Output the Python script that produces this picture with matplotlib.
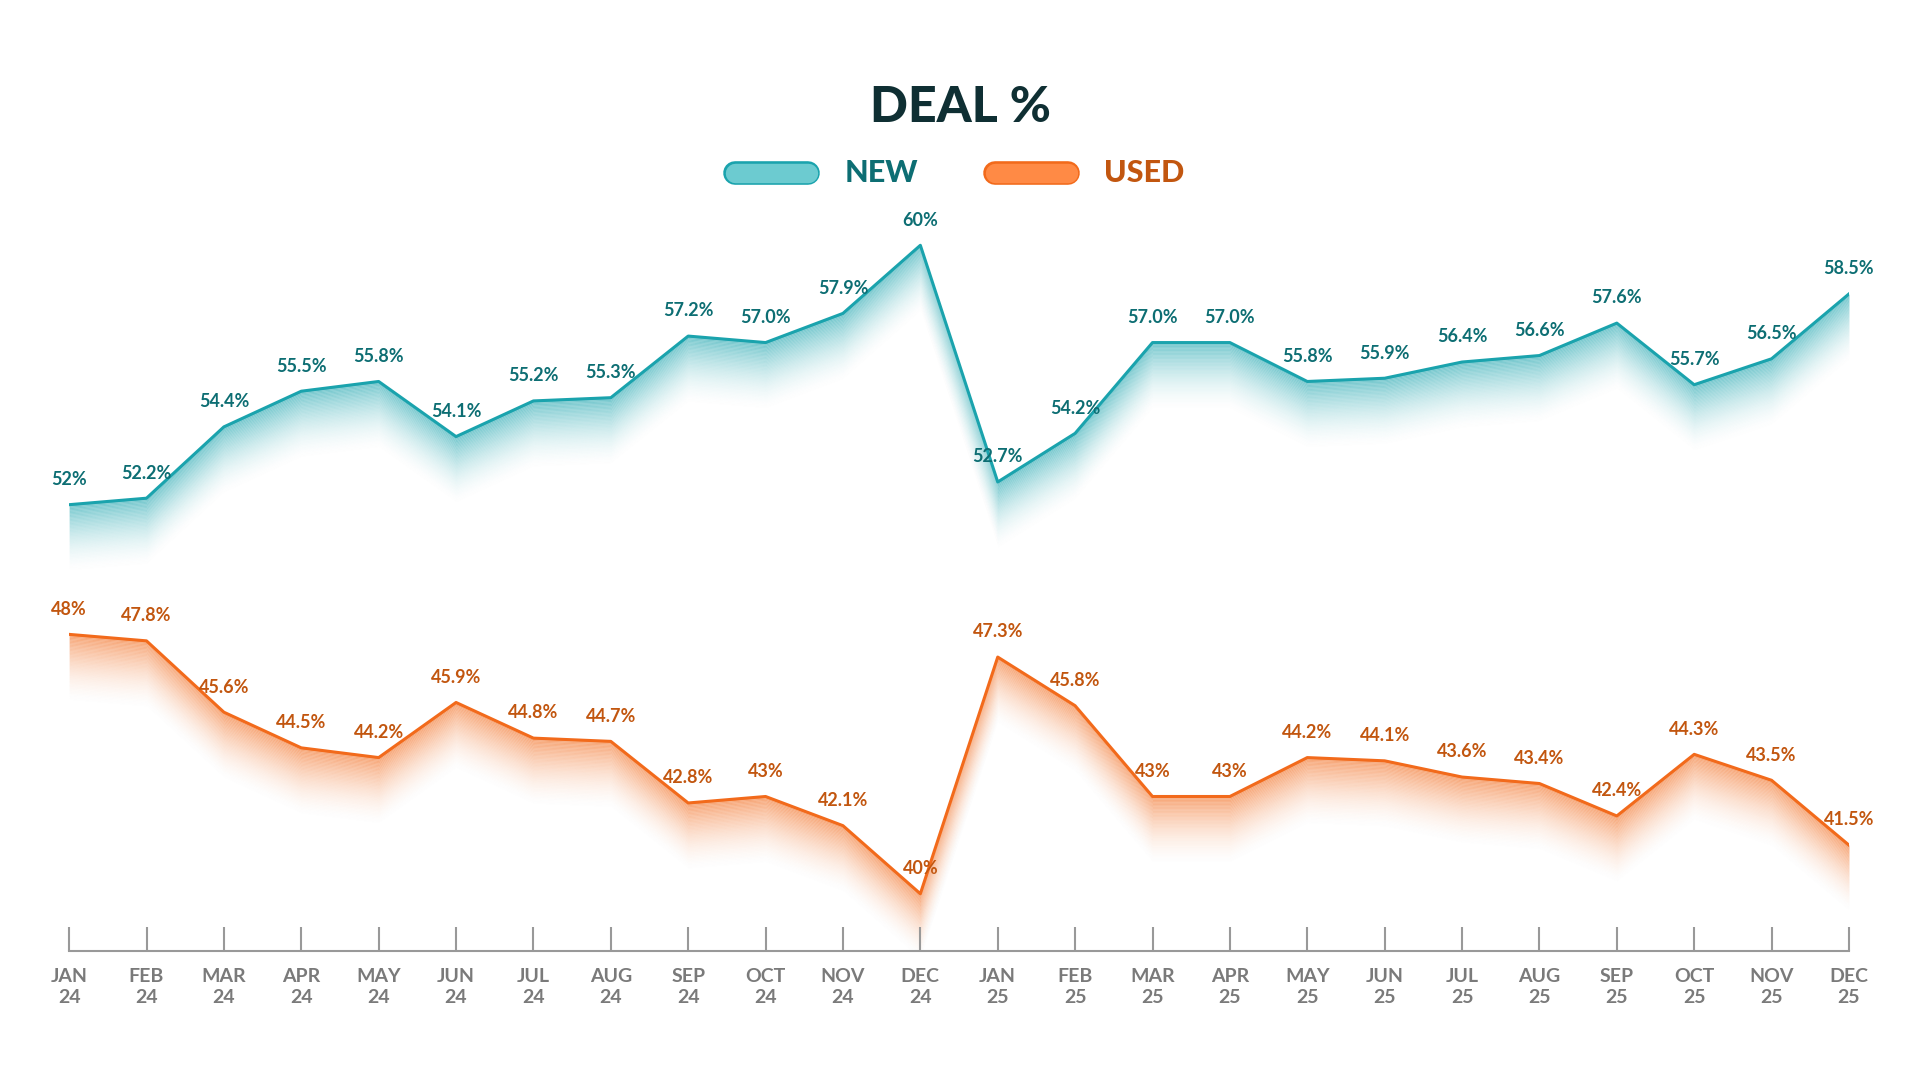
import matplotlib
matplotlib.use("Agg")
import matplotlib.pyplot as plt
from matplotlib.lines import Line2D
import numpy as np

months = ["JAN\n24","FEB\n24","MAR\n24","APR\n24","MAY\n24","JUN\n24","JUL\n24","AUG\n24","SEP\n24","OCT\n24","NOV\n24","DEC\n24",
          "JAN\n25","FEB\n25","MAR\n25","APR\n25","MAY\n25","JUN\n25","JUL\n25","AUG\n25","SEP\n25","OCT\n25","NOV\n25","DEC\n25"]
new_vals = [52, 52.2, 54.4, 55.5, 55.8, 54.1, 55.2, 55.3, 57.2, 57.0, 57.9, 60, 52.7, 54.2, 57.0, 57.0, 55.8, 55.9, 56.4, 56.6, 57.6, 55.7, 56.5, 58.5]
new_labels = ["52%","52.2%","54.4%","55.5%","55.8%","54.1%","55.2%","55.3%","57.2%","57.0%","57.9%","60%","52.7%","54.2%","57.0%","57.0%","55.8%","55.9%","56.4%","56.6%","57.6%","55.7%","56.5%","58.5%"]
used_vals = [48, 47.8, 45.6, 44.5, 44.2, 45.9, 44.8, 44.7, 42.8, 43, 42.1, 40, 47.3, 45.8, 43, 43, 44.2, 44.1, 43.6, 43.4, 42.4, 44.3, 43.5, 41.5]
used_labels = ["48%","47.8%","45.6%","44.5%","44.2%","45.9%","44.8%","44.7%","42.8%","43%","42.1%","40%","47.3%","45.8%","43%","43%","44.2%","44.1%","43.6%","43.4%","42.4%","44.3%","43.5%","41.5%"]

plt.rcParams['font.family'] = ['Lato', 'DejaVu Sans']
TEAL = "#1aa3ad"; TEAL_T = "#0d6e73"
ORNG = "#f26a1b"; ORNG_T = "#c2560f"

fig = plt.figure(figsize=(19.2, 10.8), dpi=100)
ax = fig.add_axes([0.036, 0.119, 0.927, 0.831])
x = np.arange(len(months))
ax.set_xlim(0, len(months) - 1)
ax.set_ylim(38.22, 65.9)

def gradient_fill(y, color, depth=2.1, n=50):
    y = np.asarray(y, float)
    for k in range(n):
        a = 0.6 * (1 - k / n) ** 1.8
        ax.fill_between(x, y - k * depth / n, y - (k + 1) * depth / n, color=color, alpha=a, lw=0)

gradient_fill(new_vals, TEAL)
gradient_fill(used_vals, ORNG)
ax.plot(x, new_vals, color=TEAL, lw=2.2, zorder=5)
ax.plot(x, used_vals, color=ORNG, lw=2.2, zorder=5)

for i in x:
    ax.annotate(new_labels[i], (i, new_vals[i]), xytext=(0, 12), textcoords="offset points",
                ha="center", va="bottom", fontsize=13, fontweight="bold", color=TEAL_T, zorder=6)
    ax.annotate(used_labels[i], (i, used_vals[i]), xytext=(0, 12), textcoords="offset points",
                ha="center", va="bottom", fontsize=13, fontweight="bold", color=ORNG_T, zorder=6)

for s in ["top", "right", "left"]:
    ax.spines[s].set_visible(False)
ax.spines["bottom"].set_color("#999999")
ax.spines["bottom"].set_linewidth(1.5)
ax.set_yticks([])
ax.set_xticks(x)
ax.set_xticklabels(months, fontsize=14, color="#7a7a7a", fontweight="bold", linespacing=1.3)
ax.tick_params(axis="x", direction="in", length=17, width=1.5, color="#999999", pad=12)

fig.text(0.5, 0.9, "DEAL %", ha="center", va="center", fontsize=36, fontweight="black", color="#0f2f33")
for x0, col, ec, txt, tcol in [(0.383, "#6ccbd0", TEAL, "NEW", TEAL_T), (0.518, "#ff8a45", ORNG, "USED", ORNG_T)]:
    fig.lines.append(Line2D([x0, x0 + 0.038], [0.84, 0.84], transform=fig.transFigure, color=ec,
                            lw=17, solid_capstyle="round"))
    fig.lines.append(Line2D([x0, x0 + 0.038], [0.84, 0.84], transform=fig.transFigure, color=col,
                            lw=14, solid_capstyle="round"))
    fig.text(x0 + 0.057, 0.84, txt, ha="left", va="center", fontsize=22, fontweight="black", color=tcol)

fig.savefig("out.png", dpi=100, facecolor="white")
